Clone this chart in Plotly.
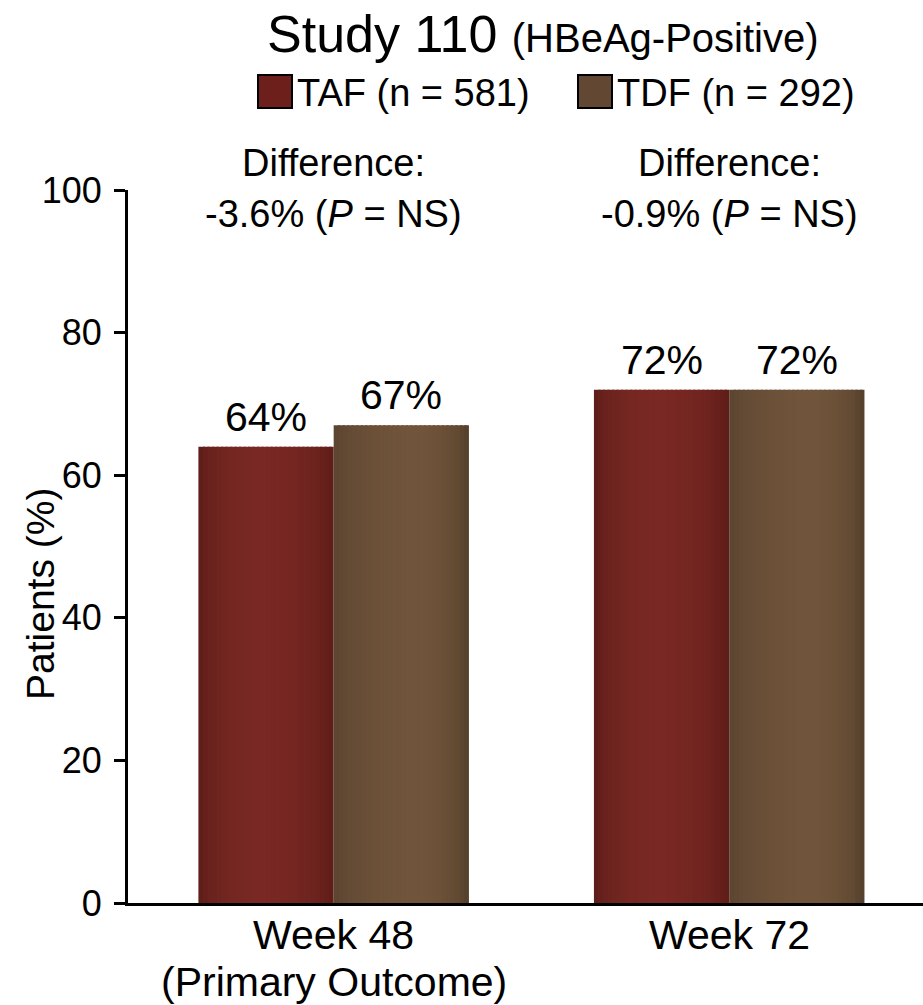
import math
import plotly.graph_objects as go

# ---- data ----
categories = ["Week 48<br>(Primary Outcome)", "Week 72"]
taf_values = [64, 72]
tdf_values = [67, 72]
series_names = ["TAF (n = 581)", "TDF (n = 292)"]
differences = ["-3.6%", "-0.9%"]
y_ticks = [0, 20, 40, 60, 80, 100]

# ---- layout constants ----
W, H = 923, 1005
ML, MR, MT, MB = 128, 0, 190, 102
PW, PH = W - ML - MR, H - MT - MB
FONT = "Liberation Sans, Arial, Helvetica, sans-serif"
BAR_W = 0.342
N_SLICES = 30

def px_x(p):
    return (p - ML) / PW

def px_y(p):
    return (H - MB - p) / PH

# gradient stops: left edge, peak, right edge, peak position
grad = {
    "TAF": ((90, 28, 24), (121, 40, 35), (92, 27, 23), 0.45),
    "TDF": ((88, 66, 47), (112, 84, 59), (80, 60, 41), 0.62),
}

def shade(t, stops):
    left, peak, right, pp = stops
    if t < pp:
        f = math.sin(math.pi / 2 * t / pp) ** 0.6
        c = [l + (p - l) * f for l, p in zip(left, peak)]
    else:
        f = math.sin(math.pi / 2 * (1 - t) / (1 - pp)) ** 0.6
        c = [r + (p - r) * f for r, p in zip(right, peak)]
    return "rgb(%d,%d,%d)" % tuple(round(v) for v in c)

fig = go.Figure()

for key, vals, base in (("TAF", taf_values, -BAR_W), ("TDF", tdf_values, 0.0)):
    step = BAR_W / N_SLICES
    for k in range(N_SLICES):
        t = (k + 0.5) / N_SLICES
        extra = step * 0.5 if k < N_SLICES - 1 else 0
        fig.add_trace(go.Bar(
            x=categories, y=vals,
            width=step + extra, offset=base + k * step,
            marker=dict(color=shade(t, grad[key]), line=dict(width=0)),
            showlegend=False, hoverinfo="skip",
        ))

annotations = []
# category labels (drawn as annotations for exact line placement)
for i, cat in enumerate(categories):
    for j, line in enumerate(cat.split("<br>")):
        annotations.append(dict(
            x=i, y=px_y(935 + 47 * j), xref="x", yref="paper", text=line,
            showarrow=False, yanchor="middle",
            font=dict(family=FONT, size=41, color="black"),
        ))
# value labels
for i, (a, b) in enumerate(zip(taf_values, tdf_values)):
    for v, off in ((a, -BAR_W / 2), (b, BAR_W / 2)):
        annotations.append(dict(
            x=i + off, y=v, xref="x", yref="y", text=f"{v}%",
            showarrow=False, yanchor="bottom", yshift=5,
            font=dict(family=FONT, size=41, color="black"),
        ))
# difference labels
for i, d in enumerate(differences):
    annotations.append(dict(
        x=i, y=px_y(163), xref="x", yref="paper", text="Difference:",
        showarrow=False, yanchor="middle",
        font=dict(family=FONT, size=38, color="black"),
    ))
    annotations.append(dict(
        x=i, y=px_y(214), xref="x", yref="paper",
        text=f"{d} (<i>P</i> = NS)",
        showarrow=False, yanchor="middle",
        font=dict(family=FONT, size=38, color="black"),
    ))
# title
annotations.append(dict(
    x=px_x(543), y=px_y(34), xref="paper", yref="paper",
    text='Study 110 <span style="font-size:40px">(HBeAg-Positive)</span>',
    showarrow=False, xanchor="center", yanchor="middle",
    font=dict(family=FONT, size=52, color="black"),
))
# y-axis title
annotations.append(dict(
    x=px_x(40), y=px_y(594), xref="paper", yref="paper",
    text="Patients (%)", textangle=-90,
    showarrow=False, xanchor="center", yanchor="middle",
    font=dict(family=FONT, size=39, color="black"),
))

# manual legend
legend_colors = ["rgb(108,31,27)", "rgb(98,72,50)"]
legend_x = [258, 578]
shapes = []
for name, col, lx in zip(series_names, legend_colors, legend_x):
    shapes.append(dict(
        type="rect", xref="paper", yref="paper",
        x0=px_x(lx), x1=px_x(lx + 34), y0=px_y(108), y1=px_y(75),
        fillcolor=col, line=dict(color="black", width=2),
    ))
    annotations.append(dict(
        x=px_x(lx + 37), y=px_y(93), xref="paper", yref="paper",
        text=name, showarrow=False, xanchor="left", yanchor="middle",
        font=dict(family=FONT, size=38, color="black"),
    ))

fig.update_layout(
    width=W, height=H,
    margin=dict(l=ML, r=MR, t=MT, b=MB, pad=0, autoexpand=False),
    paper_bgcolor="white", plot_bgcolor="white",
    barmode="overlay",
    showlegend=False,
    annotations=annotations,
    shapes=shapes,
    font=dict(family=FONT, color="black"),
    xaxis=dict(
        range=[-0.52, 1.49], showline=True, linecolor="black", linewidth=3,
        ticks="", showgrid=False, zeroline=False, automargin=False,
        showticklabels=False,
    ),
    yaxis=dict(
        range=[0, 100], tickvals=y_ticks, showline=True, linecolor="black",
        linewidth=3, ticks="outside", ticklen=11, tickwidth=3, tickcolor="black",
        showgrid=False, zeroline=False, ticklabelstandoff=5, automargin=False,
        tickfont=dict(family=FONT, size=36, color="black"),
    ),
)

fig.write_html(
    "out.html",
    config={"displayModeBar": False},
    post_script="document.body.style.margin='0px';document.body.style.overflow='hidden';",
)
